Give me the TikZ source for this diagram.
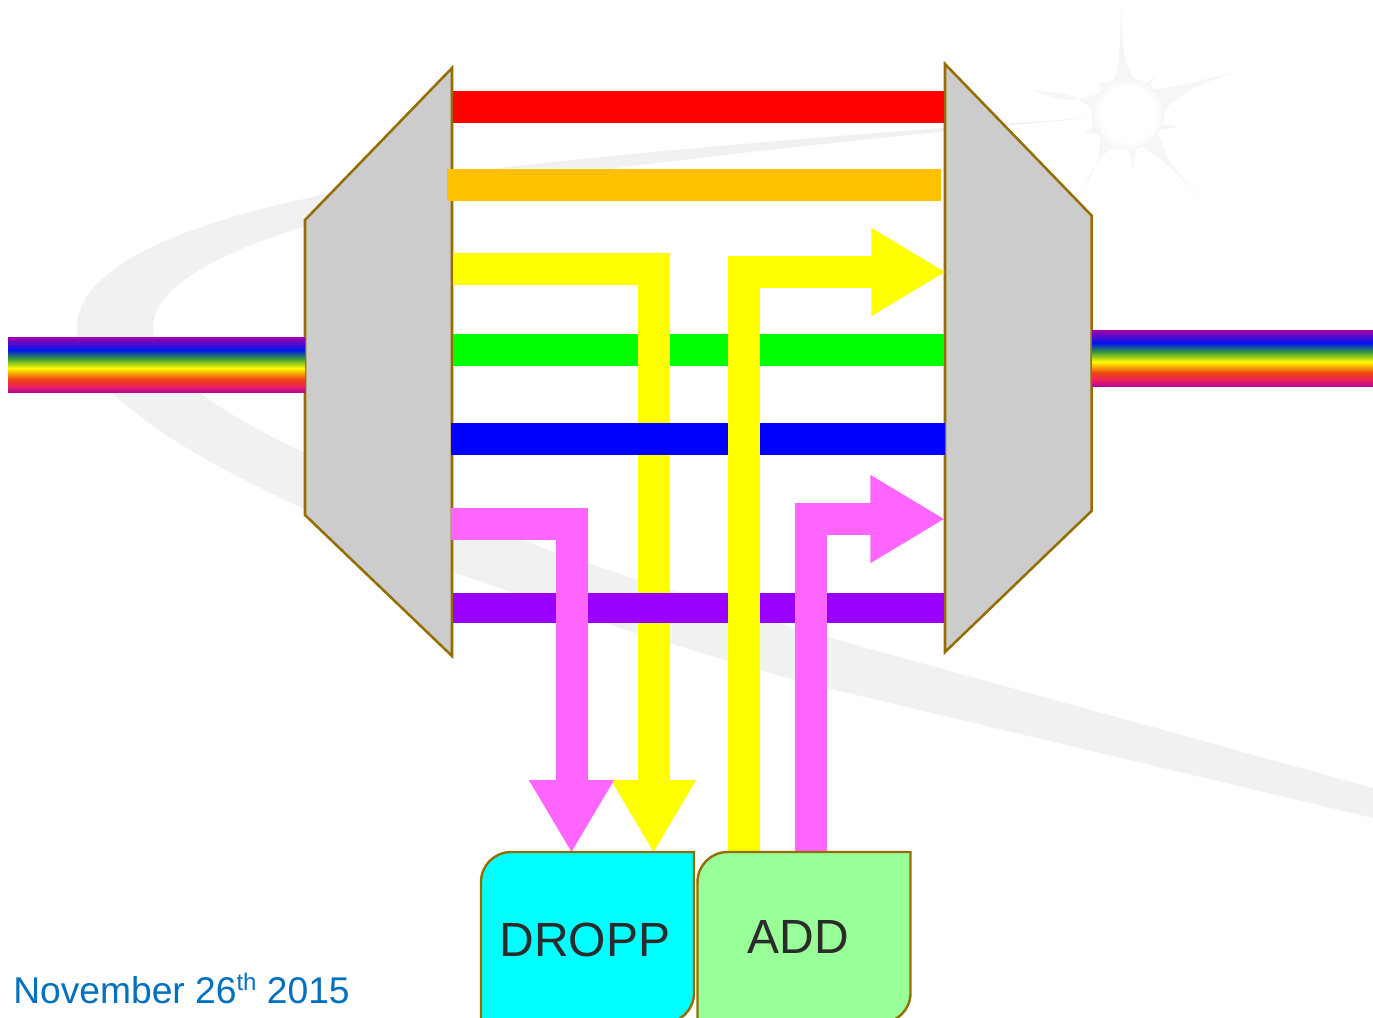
\documentclass[tikz,border=0pt]{standalone}
\usepackage{fontspec}
\setmainfont{Liberation Sans}
\usetikzlibrary{arrows.meta}
\definecolor{swooshgray}{HTML}{F0F2F1}
\definecolor{stargray}{HTML}{F5F6F6}
\definecolor{muxfill}{HTML}{CCCCCC}
\definecolor{muxline}{RGB}{150,110,0}
\definecolor{wdmred}{HTML}{FF0000}
\definecolor{wdmorange}{HTML}{FFC000}
\definecolor{wdmyellow}{HTML}{FFFF00}
\definecolor{wdmgreen}{HTML}{00FF00}
\definecolor{wdmblue}{HTML}{0000FF}
\definecolor{wdmviolet}{HTML}{9900FF}
\definecolor{wdmpink}{HTML}{FF66FF}
\definecolor{dropfill}{HTML}{00FFFF}
\definecolor{addfill}{HTML}{99FF99}
\definecolor{labeltext}{HTML}{2B2B2B}
\definecolor{datetext}{HTML}{0070C0}
\definecolor{rbA}{RGB}{165,0,170}
\definecolor{rbB}{RGB}{0,20,240}
\definecolor{rbC}{RGB}{50,150,60}
\definecolor{rbD}{RGB}{255,250,0}
\definecolor{rbE}{RGB}{240,65,20}
\definecolor{rbF}{RGB}{235,35,90}
\definecolor{rbG}{RGB}{180,0,160}
\pgfdeclareverticalshading{wdmrainbow}{100bp}{color(0bp)=(rbG); color(25bp)=(rbG); color(31bp)=(rbF); color(37bp)=(rbE); color(47bp)=(rbD); color(56bp)=(rbC); color(63.5bp)=(rbB); color(75bp)=(rbA); color(100bp)=(rbA)}
\pgfdeclareradialshading{wdmhub}{\pgfpoint{0bp}{0bp}}{color(0bp)=(white); color(19bp)=(white); color(25bp)=(stargray); color(50bp)=(stargray)}
\tikzset{
  wdmbar/.style={line width=24pt,draw=#1},
  thinbar/.style={line width=22.5pt,draw=#1},
  droparrow/.style={line width=24pt,draw=#1,miter limit=10,
    -{Triangle[length=54.75pt,width=59.75pt,fill=#1]}},
  addarrow/.style={line width=24pt,draw=#1,miter limit=10,
    -{Triangle[length=56pt,width=62pt,fill=#1]}},
  muxshape/.style={draw=muxline,line width=1.9pt,fill=muxfill,line join=miter},
  boxshape/.style={draw=muxline,line width=1.8pt,fill=#1},
  boxanchor/.style={minimum width=159.75pt,minimum height=128.25pt,inner sep=0pt,outer sep=0pt},
  boxlabel/.style={text=labeltext,inner sep=0pt,font=\fontsize{36}{40}\selectfont},
}
\begin{document}
\begin{tikzpicture}[x=0.75pt,y=-0.75pt]
\useasboundingbox (0,0) rectangle (1373,1017);
\clip (0,0) rectangle (1373,1017);
\fill[white] (0,0) rectangle (1373,1017);
% background swoosh
\fill[swooshgray] (1090,118) .. controls (900,130) and (650,150) .. (491,169)
 .. controls (300,190) and (77,240) .. (77,327)
 .. controls (77,400) and (220,480) .. (453,572)
 .. controls (560,610) and (740,667) .. (827,688)
 -- (1373,818) -- (1373,788) -- (827,637)
 .. controls (740,613) and (620,575) .. (521,540)
 .. controls (300,460) and (153,390) .. (153,327)
 .. controls (153,250) and (400,190) .. (609,169)
 .. controls (750,151) and (950,130) .. (1090,118) -- cycle;
% background star
\fill[stargray] (1121,5) .. controls (1122,50) and (1125,72) .. (1138,82)
 .. controls (1148,84) .. (1158,71) .. controls (1151,82) .. (1150,90)
 .. controls (1180,86) .. (1238,71) .. controls (1190,88) .. (1167,107)
 .. controls (1163,118) .. (1160,126) .. controls (1168,124) .. (1178,127)
 .. controls (1168,128) .. (1157,130) .. controls (1168,162) .. (1207,205)
 .. controls (1172,168) .. (1140,144) .. controls (1135,150) .. (1133,170)
 .. controls (1130,155) .. (1128,147) -- (1117,147)
 .. controls (1103,152) .. (1077,197) .. controls (1098,165) .. (1101,135)
 .. controls (1092,132) .. (1083,135) .. controls (1092,128) .. (1094,122)
 -- (1090,107) .. controls (1070,93) .. (1028,90) .. controls (1070,102) .. (1098,94)
 .. controls (1102,88) .. (1095,76) .. controls (1100,84) .. (1112,82)
 .. controls (1119,70) .. (1121,5) -- cycle;
\shade[shading=wdmhub] (1128,114) circle[radius=36];
% multiplexers
\coordinate (dmA) at (305,220); \coordinate (dmB) at (452,68);
\coordinate (dmC) at (452,656); \coordinate (dmD) at (305,515);
\coordinate (mxA) at (945,64); \coordinate (mxB) at (1091.5,215.5);
\coordinate (mxC) at (1091.5,511); \coordinate (mxD) at (945,652);
\draw[muxshape] (dmA) -- (dmB) -- (dmC) -- (dmD) -- cycle;
\draw[muxshape] (mxA) -- (mxB) -- (mxC) -- (mxD) -- cycle;
% rainbow fibres
\shade[shading=wdmrainbow] (8,337) rectangle (305,392.7);
\shade[shading=wdmrainbow] (1092,330) rectangle (1373,386.7);
% boxes' positions
\node[boxanchor] (dropbox) at (587.5,937.5) {};
\node[boxanchor] (addbox) at (804,937.5) {};
% channel end points
\coordinate (redL) at (453,107); \coordinate (redR) at (944,107);
\coordinate (orgL) at (447,185); \coordinate (orgR) at (941,185);
\coordinate (grnL) at (453,350); \coordinate (grnR) at (944,350);
\coordinate (bluL) at (451,439); \coordinate (bluR) at (945,439);
\coordinate (vioL) at (453,608); \coordinate (vioR) at (944,608);
\coordinate (ydL) at (453,269); \coordinate (ydC) at (653.5,269); \coordinate (ydT) at (653.5,853);
\coordinate (pdL) at (451,524); \coordinate (pdC) at (571.5,524); \coordinate (pdT) at (571.5,853);
\coordinate (yaB) at (743.5,853); \coordinate (yaC) at (743.5,272); \coordinate (yaT) at (946,272);
\coordinate (paB) at (811,853); \coordinate (paC) at (811,519); \coordinate (paT) at (945,519);
% channels
\draw[wdmbar=wdmred] (redL) -- (redR);
\draw[wdmbar=wdmorange] (orgL) -- (orgR);
\draw[wdmbar=wdmgreen] (grnL) -- (grnR);
\draw[droparrow=wdmyellow] (ydL) -- (ydC) -- (ydT);
\draw[wdmbar=wdmblue] (bluL) -- (bluR);
\draw[thinbar=wdmviolet] (vioL) -- (vioR);
\draw[droparrow=wdmpink] (pdL) -- (pdC) -- (pdT);
\draw[addarrow=wdmyellow] (yaB) -- (yaC) -- (yaT);
\draw[addarrow=wdmpink] (paB) -- (paC) -- (paT);
% boxes
\draw[boxshape=dropfill] (dropbox.south west) [rounded corners=22.5pt] -- (dropbox.north west) [sharp corners] -- (dropbox.north east) [rounded corners=22.5pt] -- (dropbox.south east) [sharp corners] -- cycle;
\draw[boxshape=addfill] (addbox.south west) [rounded corners=22.5pt] -- (addbox.north west) [sharp corners] -- (addbox.north east) [rounded corners=22.5pt] -- (addbox.south east) [sharp corners] -- cycle;
\node[boxlabel] (droplabel) at (585,940) {DROPP};
\node[boxlabel] (addlabel) at (798,936.5) {ADD};
\node[anchor=base west,inner sep=0pt,text=datetext,font=\fontsize{27.9}{32}\selectfont] (datelabel) at (13,1003.5) {November 26\raisebox{0.36em}{\fontsize{18}{20}\selectfont th} 2015};
\end{tikzpicture}
\end{document}
